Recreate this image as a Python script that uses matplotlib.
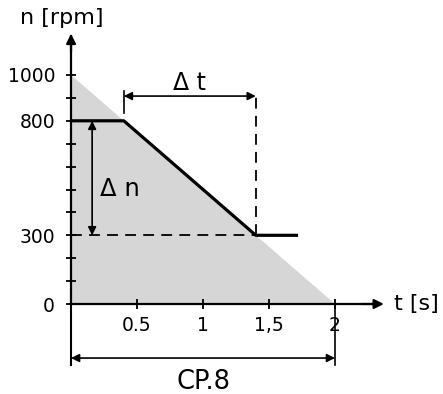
import matplotlib
matplotlib.use("Agg")
import matplotlib.pyplot as plt
from matplotlib.ticker import FixedLocator

# ---- data ----
triangle_t = [0, 0, 2]
triangle_n = [0, 1000, 0]
profile_t = [0, 0.4, 1.4, 1.72]
profile_n = [800, 800, 300, 300]
x_ticks = [0.5, 1, 1.5, 2]
x_ticklabels = ["0.5", "1", "1,5", "2"]
y_ticks = [0, 300, 800, 1000]
y_ticklabels = ["0", "300", "800", "1000"]
y_minor = [100, 200, 400, 500, 600, 700, 900]
t_start, t_end = 0.4, 1.4
n_high, n_low = 800, 300
cp_t = 2

plt.rcParams['font.family'] = ['DejaVu Sans']
fig = plt.figure(figsize=(4.43, 3.94), dpi=100)
ax = fig.add_axes([0, 0, 1, 1])
ax.set_xlim(-0.538, 2.818)
ax.set_ylim(-393, 1327.5)

# shaded triangle
ax.fill(triangle_t, triangle_n, facecolor='#d6d6d6', edgecolor='none', zorder=1)

# speed profile
ax.plot(profile_t, profile_n, color='black', lw=2.3, solid_capstyle='butt', zorder=4)

# dashed helper lines
ax.plot([0, t_end], [n_low, n_low], color='black', lw=1.3, dashes=(6, 4), zorder=3)
ax.plot([t_end, t_end], [n_low, 930], color='black', lw=1.3, dashes=(6, 4), zorder=3)

# delta t dimension
ax.plot([t_start, t_start], [834, 930], color='black', lw=1.2, zorder=3)
ax.annotate('', xy=(t_start, 908), xytext=(t_end, 908),
            arrowprops=dict(arrowstyle='<|-|>', color='black', lw=1.2,
                            shrinkA=0, shrinkB=0, mutation_scale=12))
ax.text((t_start + t_end) / 2 - 0.0, 965, 'Δ t', ha='center', va='center', fontsize=17)

# delta n dimension
ax.annotate('', xy=(0.16, n_high), xytext=(0.16, n_low),
            arrowprops=dict(arrowstyle='<|-|>', color='black', lw=1.2,
                            shrinkA=0, shrinkB=0, mutation_scale=12))
ax.text(0.37, 502, 'Δ n', ha='center', va='center', fontsize=17.5)

# CP.8 dimension
ax.plot([0, 0], [0, -266], color='black', lw=1.5, zorder=3)
ax.plot([cp_t, cp_t], [0, -266], color='black', lw=1.2, zorder=3)
ax.annotate('', xy=(0, -236), xytext=(cp_t, -236),
            arrowprops=dict(arrowstyle='<|-|>', color='black', lw=1.2,
                            shrinkA=0, shrinkB=0, mutation_scale=12))
ax.text(1.0, -341, 'CP.8', ha='center', va='center', fontsize=18.5)

# axes as spines
for s in ['top', 'right']:
    ax.spines[s].set_visible(False)
ax.spines['left'].set_position(('data', 0))
ax.spines['bottom'].set_position(('data', 0))
ax.spines['left'].set_bounds(0, 1170)
ax.spines['bottom'].set_bounds(0, 2.33)
ax.spines['left'].set_linewidth(1.6)
ax.spines['bottom'].set_linewidth(1.6)
ax.spines['left'].set_zorder(5)
ax.spines['bottom'].set_zorder(5)

ax.annotate('', xy=(0, 1180), xytext=(0, 1100),
            arrowprops=dict(arrowstyle='-|>', color='black', lw=1.6,
                            shrinkA=0, shrinkB=0, mutation_scale=14))
ax.annotate('', xy=(2.37, 0), xytext=(2.2, 0),
            arrowprops=dict(arrowstyle='-|>', color='black', lw=1.6,
                            shrinkA=0, shrinkB=0, mutation_scale=14))

ax.set_xticks(x_ticks)
ax.set_xticklabels(x_ticklabels, fontsize=13.5)
ax.set_yticks(y_ticks)
ax.set_yticklabels(y_ticklabels, fontsize=13.5)
ax.yaxis.set_minor_locator(FixedLocator(y_minor))
ax.tick_params(axis='x', direction='inout', length=7, width=1.3, pad=5)
ax.tick_params(axis='y', which='both', direction='inout', length=7, width=1.3, pad=8)
ax.tick_params(axis='y', which='minor', labelleft=False)

ax.text(-0.07, 1249, 'n [rpm]', ha='center', va='center', fontsize=16)
ax.text(2.62, 0, 't [s]', ha='center', va='center', fontsize=16)

fig.savefig('out.png', dpi=100)
